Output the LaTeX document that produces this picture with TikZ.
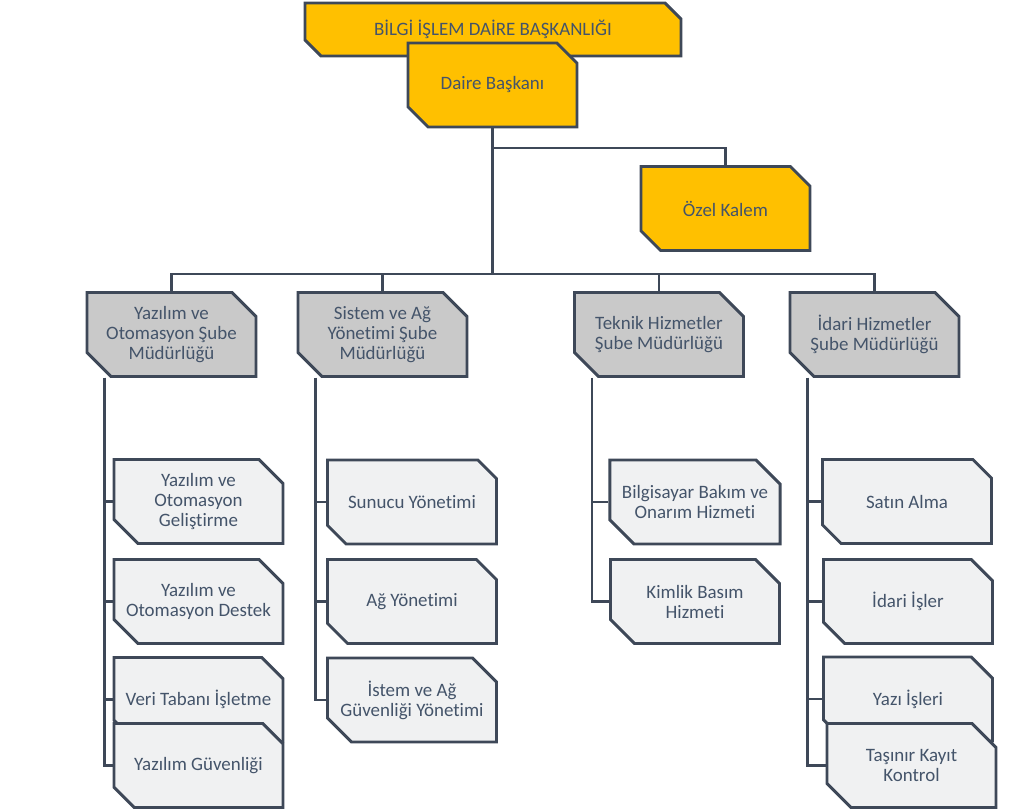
\documentclass[tikz,border=0pt]{standalone}
\usepackage{fontspec}
\setmainfont{Carlito}[Ligatures=NoCommon]
\usetikzlibrary{shapes,arrows,positioning}
\definecolor{sari}{HTML}{FFC000}
\definecolor{gri}{HTML}{C9C9C9}
\definecolor{acikgri}{HTML}{F0F1F2}
\definecolor{cizgi}{HTML}{3E4858}
\definecolor{yazi}{HTML}{44546A}
\tikzset{
	kutu/.style={chamfered rectangle,chamfered rectangle corners={north east,south west},
		chamfered rectangle xsep=9pt,chamfered rectangle ysep=9pt,draw=cizgi,line width=2.2pt,
		inner sep=0pt,minimum width=126.75pt,minimum height=63pt,align=center,text=yazi,
		font=\fontsize{14.2}{15}\selectfont},
	ust/.style={kutu,fill=sari},
	sube/.style={kutu,fill=gri},
	birim/.style={kutu,fill=acikgri},
	baglanti/.style={draw=cizgi,line width=1.6pt}
}
\begin{document}
\begin{tikzpicture}[x=.75pt,y=-.75pt]
			\useasboundingbox (0,0) rectangle (1027,809);
			\node[ust,minimum width=282pt,minimum height=39.75pt,chamfered rectangle xsep=6pt,chamfered rectangle ysep=6pt] (daire) at (493,29.5) {BİLGİ İŞLEM DAİRE BAŞKANLIĞI};
			\node[ust] (baskan) at (492.5,85) {Daire Başkanı};
			\node[ust] (kalem) at (725.5,208.5) {Özel Kalem};
			\node[sube] (yazilim) at (171.5,334.5) {Yazılım ve\\Otomasyon Şube\\Müdürlüğü};
			\node[sube] (sistem) at (382.5,334.5) {Sistem ve Ağ\\Yönetimi Şube\\Müdürlüğü};
			\node[sube] (teknik) at (659,334.5) {Teknik Hizmetler\\Şube Müdürlüğü};
			\node[sube] (idari) at (874.5,334.5) {İdari Hizmetler\\Şube Müdürlüğü};
			\node[birim] (yaz1) at (198.5,501.5) {Yazılım ve\\Otomasyon\\Geliştirme};
			\node[birim] (yaz2) at (198.5,601.5) {Yazılım ve\\Otomasyon Destek};
			\node[birim] (yaz3) at (198.5,699.5) {Veri Tabanı İşletme};
			\node[birim] (yaz4) at (198.5,765.5) {Yazılım Güvenliği};
			\node[birim] (sis1) at (412,502) {Sunucu Yönetimi};
			\node[birim] (sis2) at (412,601.5) {Ağ Yönetimi};
			\node[birim] (sis3) at (412,700) {İstem ve Ağ\\Güvenliği Yönetimi};
			\node[birim] (tek1) at (695,502) {Bilgisayar Bakım ve\\Onarım Hizmeti};
			\node[birim] (tek2) at (695,601.5) {Kimlik Basım\\Hizmeti};
			\node[birim] (ida1) at (907,501.5) {Satın Alma};
			\node[birim] (ida2) at (908,601.5) {İdari İşler};
			\node[birim] (ida3) at (908,699) {Yazı İşleri};
			\node[birim] (ida4) at (911.5,765.5) {Taşınır Kayıt\\Kontrol};
			\coordinate (ayrim) at (492.5,148);
			\coordinate (bar) at (492.5,274);
			\draw[baglanti] (baskan.south) -- (bar);
			\draw[baglanti] (ayrim) -| (kalem.north);
			\foreach \s in {yazilim,sistem,teknik,idari} \draw[baglanti] (bar) -| (\s.north);
			\foreach \s/\b in {yazilim/yaz1,yazilim/yaz2,yazilim/yaz3,yazilim/yaz4,sistem/sis1,sistem/sis2,sistem/sis3,teknik/tek1,teknik/tek2,idari/ida1,idari/ida2,idari/ida3,idari/ida4} \draw[baglanti] ([xshift=-50.25pt]\s.south) |- (\b.west);
		\end{tikzpicture}
\end{document}
